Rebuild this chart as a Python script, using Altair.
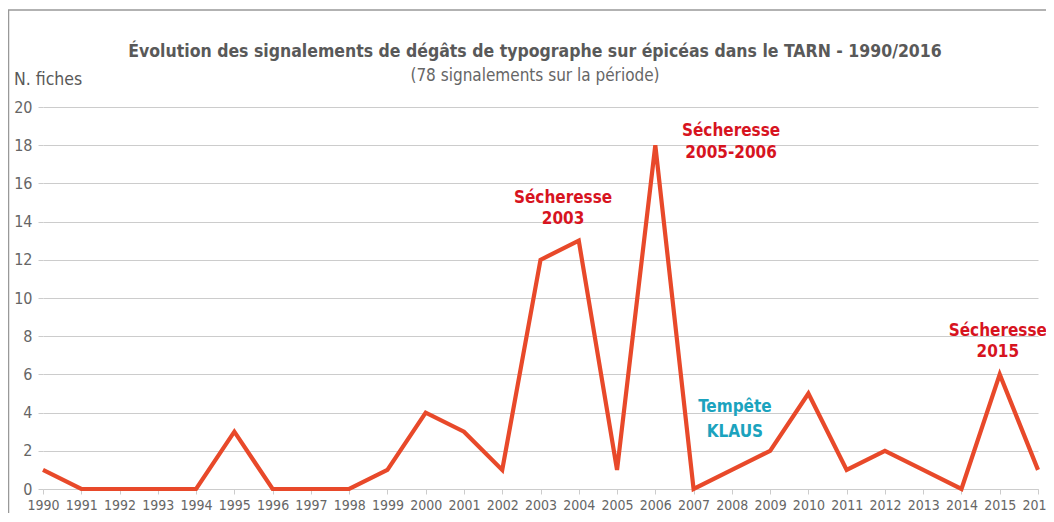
import altair as alt
import pandas as pd

years = list(range(1990, 2017))
counts = [1, 0, 0, 0, 0, 3, 0, 0, 0, 1, 4, 3, 1, 12, 13, 1, 18, 0, 1, 2, 5, 1, 2, 1, 0, 6, 1]
y_ticks = [0, 2, 4, 6, 8, 10, 12, 14, 16, 18, 20]

ann_text = ["Sécheresse", "2003", "Sécheresse", "2005-2006", "Sécheresse", "2015", "Tempête", "KLAUS"]
ann_year = [2003.59, 2003.59, 2007.98, 2007.98, 2014.95, 2014.95, 2008.08, 2008.08]
ann_value = [15.24, 14.14, 18.74, 17.59, 8.27, 7.17, 4.29, 2.98]
ann_kind = ["sec", "sec", "sec", "sec", "sec", "sec", "storm", "storm"]

title_text = "Évolution des signalements de dégâts de typographe sur épicéas dans le TARN - 1990/2016"
subtitle_text = "(78 signalements sur la période)"
y_title = "N. fiches"

FONT = "DejaVu Sans Condensed, DejaVu Sans, sans-serif"
W, H = 995, 382

df = pd.DataFrame({"year": years, "count": counts})
ann = pd.DataFrame({"year": ann_year, "value": ann_value, "text": ann_text, "kind": ann_kind})

xs = alt.Scale(domain=[1990, 2016], nice=False, zero=False)
ys = alt.Scale(domain=[0, 20], nice=False)

x_axis = alt.Axis(values=years, format="d", title=None, grid=False,
                  domainColor="#CCCCCC", domainWidth=1, tickColor="#CCCCCC",
                  tickSize=5, labelFont=FONT, labelFontSize=14, labelColor="#666666",
                  labelPadding=4, labelOverlap=False, labelFlush=False)
y_axis = alt.Axis(values=y_ticks, title=None, grid=True, gridColor="#CCCCCC",
                  gridWidth=1, domain=False, tickColor="#CCCCCC", tickSize=5,
                  labelFont=FONT, labelFontSize=16, labelColor="#666666",
                  labelPadding=6, labelOverlap=False)

line = alt.Chart(df).mark_line(color="#E8492A", strokeWidth=4.2, clip=False).encode(
    x=alt.X("year:Q", scale=xs, axis=x_axis),
    y=alt.Y("count:Q", scale=ys, axis=y_axis),
)

texts = alt.Chart(ann).mark_text(font=FONT, fontSize=17, fontWeight="bold",
                                 align="center", baseline="middle").encode(
    x=alt.X("year:Q", scale=xs, axis=x_axis),
    y=alt.Y("value:Q", scale=ys, axis=y_axis),
    text="text:N",
    color=alt.Color("kind:N", scale=alt.Scale(domain=["sec", "storm"],
                                              range=["#D7141F", "#1BA3BE"]), legend=None),
)

title = alt.Chart(pd.DataFrame({"t": [title_text]})).mark_text(
    font=FONT, fontSize=17.5, fontWeight="bold", color="#595959", align="center", baseline="middle"
).encode(x=alt.value(492), y=alt.value(-55), text="t:N")

subtitle = alt.Chart(pd.DataFrame({"t": [subtitle_text]})).mark_text(
    font=FONT, fontSize=17, color="#666666", align="center", baseline="middle"
).encode(x=alt.value(492), y=alt.value(-31), text="t:N")

ytitle = alt.Chart(pd.DataFrame({"t": [y_title]})).mark_text(
    font=FONT, fontSize=17.5, color="#595959", align="left", baseline="middle"
).encode(x=alt.value(-29), y=alt.value(-27), text="t:N")

frame_left = alt.Chart(pd.DataFrame({"a": [0]})).mark_rule(color="#999999", strokeWidth=1.5).encode(
    x=alt.value(-34.5), y=alt.value(-97), y2=alt.value(430))
frame_top = alt.Chart(pd.DataFrame({"a": [0]})).mark_rule(color="#999999", strokeWidth=1.5).encode(
    x=alt.value(-35), x2=alt.value(1020), y=alt.value(-97))

chart = alt.layer(frame_left, frame_top, line, texts, title, subtitle, ytitle).properties(
    width=W, height=H,
    autosize=alt.AutoSizeParams(type="none"),
    padding={"left": 35, "top": 99, "right": 8, "bottom": 24},
    background="white",
).configure_view(stroke=None)

chart.save("out.html", embed_options={"renderer": "svg", "actions": False})
